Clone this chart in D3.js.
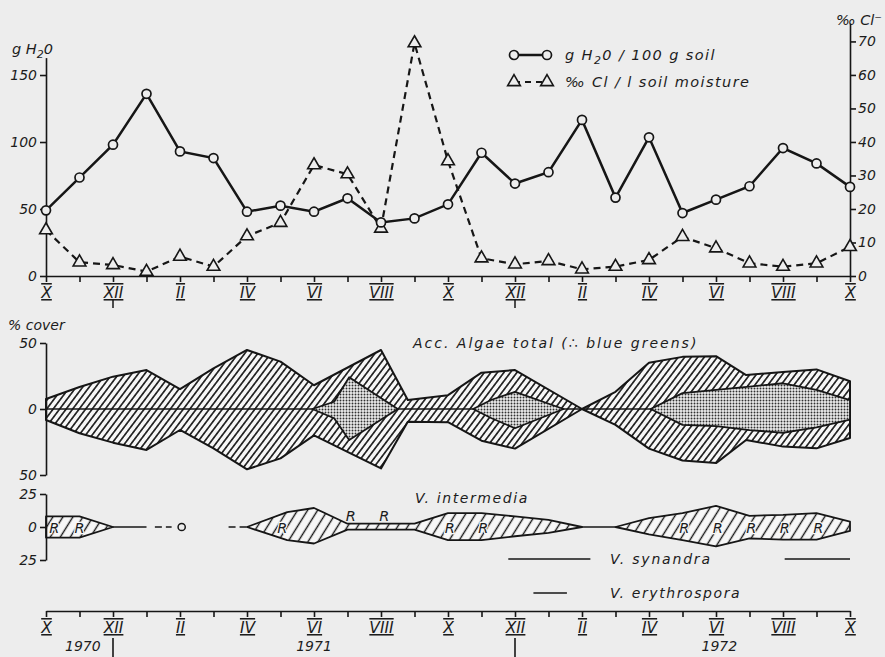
<!DOCTYPE html>
<html>
<head>
<meta charset="utf-8">
<script src="https://cdn.jsdelivr.net/npm/d3@7"></script>
<style>
  body { margin: 0; background: #ededed; }
  svg text { font-family: "DejaVu Sans", sans-serif; font-style: italic; fill: #1c1c1c; }
</style>
</head>
<body>
<svg id="chart"></svg>
<script>
// month index 0 = October 1970 ... 24 = October 1972
let monthIdx = [0,1,2,3,4,5,6,7,8,9,10,11,12,13,14,15,16,17,18,19,20,21,22,23,24]
let romanLabels = ["X","XII","II","IV","VI","VIII","X","XII","II","IV","VI","VIII","X"]

// top panel
let water = [49, 73.5, 98, 136, 93, 88, 48, 52.5, 48, 58, 40, 43, 53.5, 92, 69, 77.5, 116.5, 58.5, 103.5, 47, 57, 67, 95.5, 84, 66.5]
let chloride = [13.7, 4.1, 3.3, 1.3, 5.8, 2.8, 11.9, 15.9, 33.1, 30.4, 14.2, 69.5, 34.3, 5.3, 3.5, 4.5, 2.0, 2.8, 4.8, 11.7, 8.3, 3.8, 2.8, 3.8, 8.7]
let waterTicks = [0, 50, 100, 150]
let clTicks = [0, 10, 20, 30, 40, 50, 60, 70]

// algae total (% cover, up and down from zero)
let algaeMonths = [0,1,2,3,4,5,6,7,8,10,10.8,12,13,14,16,17,18,19,20,20.9,22,23,24]
let algaeUp = [7.6,16.7,24.5,29.5,15,30.8,44.7,35.9,18,44.7,6.8,10.5,27.5,29.5,0,13,35,39.5,40,25.7,28,30,21]
let algaeLow = [-8.3,-18.4,-25.5,-31,-15.9,-29.8,-45.7,-37.4,-20,-45,-9.6,-10,-24,-30,0,-12,-30,-39,-41,-23.5,-28.5,-29.8,-22]

// blue greens
let bgMonths = [[7.95, 8.6, 9.05, 10.5], [12.75, 13.3, 14, 15.45], [18.05, 19, 20, 21, 22, 23, 24]]
let bgUp = [[0, 5.5, 24, 0], [0, 7, 13, 0], [0, 12, 14.5, 17, 19.5, 14.5, 6.8]]
let bgLow = [[0, -7, -23.5, 0], [0, -7, -14.6, 0], [0, -12, -13, -16, -18, -14, -8]]
let coverTicks = [-50, 0, 50]

// V. intermedia
let intMonths = [[0, 1, 2], [6, 7.2, 8, 9, 11, 12, 13, 14, 15, 16], [17, 18, 19, 20, 21, 22, 23, 24]]
let intUp = [[8, 8, 0], [0, 11.3, 14.4, 2.5, 2.5, 10.5, 10.5, 8, 5.4, 0], [0, 6.7, 10.5, 16, 8.5, 9.2, 10.5, 4]]
let intLow = [[-8, -8, 0], [0, -10, -12.5, -2, -2, -10, -10, -7, -4.4, 0], [0, -5.6, -10, -14.6, -8.7, -9.5, -9.5, -3]]
let intSolid = [[2, 3], [16, 17]]
let intDashed = [[3.25, 3.75], [5.45, 6]]
let intCircle = [4.05]
let rMonths = [0.25, 1.0, 7.05, 9.1, 10.1, 12.05, 13.05, 19.05, 20.05, 21.05, 22.05, 23.05]
let rAbove = [0, 0, 0, 1, 1, 0, 0, 0, 0, 0, 0, 0]
let intTicks = [-25, 0, 25]

let synandra = [[13.8, 16.25], [22.05, 24]]
let erythrospora = [[14.55, 15.55]]

let yearBreaks = [2, 14]
let yearLabels = ["1970", "1971", "1972"]
let yearMonths = [1.1, 8, 20.1]

let w = 885
let h = 657
let bg = "#ededed"
let ink = "#161616"

let svg = d3.select("#chart").attr("width", w).attr("height", h)

let x = d3.scaleLinear().domain([0, 24]).range([46, 850])
let yWater = d3.scaleLinear().domain([0, 163]).range([276, 57.6])
let yCl = d3.scaleLinear().domain([0, 75.5]).range([276, 23])
let yAlg = d3.scaleLinear().domain([-50, 50]).range([475, 343])
let yInt = d3.scaleLinear().domain([-25, 25]).range([560, 494])

let defs = svg.append("defs")

let makeHatch = (id, gap, angle, sw) => {
  let p = defs.append("pattern")
      .attr("id", id)
      .attr("patternUnits", "userSpaceOnUse")
      .attr("width", gap)
      .attr("height", 10)
      .attr("patternTransform", "rotate(" + angle + ")")
  p.append("rect").attr("width", gap).attr("height", 10).attr("fill", "#f7f7f7")
  p.append("line")
      .attr("x1", gap / 2).attr("y1", -1)
      .attr("x2", gap / 2).attr("y2", 11)
      .attr("stroke", ink)
      .attr("stroke-width", sw)
}
makeHatch("hatchA", 5.2, 37, 1.6)
makeHatch("hatchI", 8.5, 32, 1.4)

let dots = defs.append("pattern")
               .attr("id", "dots")
               .attr("patternUnits", "userSpaceOnUse")
               .attr("width", 3).attr("height", 3)
dots.append("rect").attr("width", 3).attr("height", 3).attr("fill", "#ececec")
dots.append("circle").attr("cx", 1.5).attr("cy", 1.5).attr("r", 0.95).attr("fill", "#303030")

let styleAxis = (g, fs) => {
  g.selectAll("path, line").attr("stroke", ink).attr("stroke-width", 1.6)
  g.selectAll("text").attr("font-size", fs).attr("fill", ink)
   .attr("font-family", "DejaVu Sans").attr("font-style", "italic")
}

let monthAxis = (yPos) => {
  let ax = d3.axisBottom(x)
             .tickValues(monthIdx)
             .tickSize(6)
             .tickSizeOuter(0)
             .tickPadding(5)
             .tickFormat((d) => d % 2 === 0 ? romanLabels[d / 2] : "")
  let g = svg.append("g")
             .attr("transform", "translate(0," + yPos + ")")
             .call(ax)
  styleAxis(g, 15.5)
  g.selectAll("text").style("text-decoration", "underline overline")
}

// ---------- top panel ----------
monthAxis(276)

let gl = svg.append("g").attr("transform", "translate(46,0)")
            .call(d3.axisLeft(yWater).tickValues(waterTicks).tickSize(6).tickSizeOuter(0).tickPadding(3))
styleAxis(gl, 14)

let gr = svg.append("g").attr("transform", "translate(850,0)")
            .call(d3.axisRight(yCl).tickValues(clTicks).tickSize(6).tickSizeOuter(0).tickPadding(2))
styleAxis(gr, 14)

let clLine = d3.line().x((d, i) => x(monthIdx[i])).y((d) => yCl(d))
svg.append("path")
   .datum(chloride)
   .attr("d", clLine)
   .attr("fill", "none")
   .attr("stroke", ink)
   .attr("stroke-width", 2.2)
   .attr("stroke-dasharray", "7,5")

let waterLine = d3.line().x((d, i) => x(monthIdx[i])).y((d) => yWater(d))
svg.append("path")
   .datum(water)
   .attr("d", waterLine)
   .attr("fill", "none")
   .attr("stroke", ink)
   .attr("stroke-width", 2.5)

let tri = d3.symbol().type(d3.symbolTriangle).size(70)
svg.selectAll(".tri")
   .data(chloride)
   .enter()
   .append("path")
   .attr("class", "tri")
   .attr("d", tri)
   .attr("transform", (d, i) => "translate(" + x(monthIdx[i]) + "," + yCl(d) + ")")
   .attr("fill", bg)
   .attr("stroke", ink)
   .attr("stroke-width", 1.6)

svg.selectAll(".dot")
   .data(water)
   .enter()
   .append("circle")
   .attr("class", "dot")
   .attr("cx", (d, i) => x(monthIdx[i]))
   .attr("cy", (d) => yWater(d))
   .attr("r", 4.5)
   .attr("fill", bg)
   .attr("stroke", ink)
   .attr("stroke-width", 1.7)

// axis titles
let t1 = svg.append("text").attr("x", 12).attr("y", 54).attr("font-size", 14.5)
t1.append("tspan").text("g H")
t1.append("tspan").text("2").attr("dy", 4).attr("font-size", 11)
t1.append("tspan").text("0").attr("dy", -4)

svg.append("text").attr("x", 836).attr("y", 25).attr("font-size", 14.5).text("‰ Cl⁻")

// legend
let lg = svg.append("g").attr("transform", "translate(514,0)")
lg.append("line").attr("x1", 0).attr("x2", 33).attr("y1", 55).attr("y2", 55)
  .attr("stroke", ink).attr("stroke-width", 2.5)
lg.selectAll(".lc").data([0, 33]).enter().append("circle")
  .attr("cx", (d) => d).attr("cy", 55).attr("r", 4.5)
  .attr("fill", bg).attr("stroke", ink).attr("stroke-width", 1.7)
lg.append("line").attr("x1", 0).attr("x2", 33).attr("y1", 82).attr("y2", 82)
  .attr("stroke", ink).attr("stroke-width", 2.2).attr("stroke-dasharray", "6,5")
lg.selectAll(".lt").data([0, 33]).enter().append("path")
  .attr("d", tri).attr("transform", (d) => "translate(" + d + ",82)")
  .attr("fill", bg).attr("stroke", ink).attr("stroke-width", 1.6)

let l1 = lg.append("text").attr("x", 51).attr("y", 60).attr("font-size", 14.5).attr("letter-spacing", 1.4)
l1.append("tspan").text("g H")
l1.append("tspan").text("2").attr("dy", 4).attr("font-size", 11)
l1.append("tspan").text("0 / 100 g soil").attr("dy", -4)
lg.append("text").attr("x", 51).attr("y", 87).attr("font-size", 14.5).attr("letter-spacing", 1.4)
  .text("‰ Cl / l  soil  moisture")

// year marks under the top axis
svg.selectAll(".ym")
   .data(yearBreaks)
   .enter()
   .append("line")
   .attr("x1", (d) => x(d)).attr("x2", (d) => x(d))
   .attr("y1", 300).attr("y2", 308)
   .attr("stroke", ink).attr("stroke-width", 1.5)

// ---------- algae panel ----------
let algaeRows = algaeMonths.map((m, i) => ({ m: m, up: algaeUp[i], lo: algaeLow[i] }))
let areaAlg = d3.area().x((d) => x(d.m)).y0((d) => yAlg(d.lo)).y1((d) => yAlg(d.up))

svg.append("path")
   .datum(algaeRows)
   .attr("d", areaAlg)
   .attr("fill", "url(#hatchA)")
   .attr("stroke", ink)
   .attr("stroke-width", 2)
   .attr("stroke-linejoin", "round")

svg.append("line")
   .attr("x1", x(0)).attr("x2", x(24))
   .attr("y1", yAlg(0)).attr("y2", yAlg(0))
   .attr("stroke", ink).attr("stroke-width", 1.5)

bgMonths.forEach((ms, k) => {
  let rows = ms.map((m, i) => ({ m: m, up: bgUp[k][i], lo: bgLow[k][i] }))
  svg.append("path")
     .datum(rows)
     .attr("d", areaAlg)
     .attr("fill", "url(#dots)")
     .attr("stroke", ink)
     .attr("stroke-width", 1.8)
     .attr("stroke-linejoin", "round")
})

let ga = svg.append("g").attr("transform", "translate(46,0)")
            .call(d3.axisLeft(yAlg).tickValues(coverTicks).tickSize(6).tickSizeOuter(0).tickPadding(3)
                    .tickFormat((d) => Math.abs(d)))
styleAxis(ga, 14)

svg.append("text").attr("x", 8).attr("y", 330).attr("font-size", 14).text("% cover")
svg.append("text").attr("x", 413).attr("y", 348).attr("font-size", 14).attr("letter-spacing", 2)
   .text("Acc. Algae total (∴ blue greens)")

// ---------- V. intermedia panel ----------
let areaInt = d3.area().x((d) => x(d.m)).y0((d) => yInt(d.lo)).y1((d) => yInt(d.up))
intMonths.forEach((ms, k) => {
  let rows = ms.map((m, i) => ({ m: m, up: intUp[k][i], lo: intLow[k][i] }))
  svg.append("path")
     .datum(rows)
     .attr("d", areaInt)
     .attr("fill", "url(#hatchI)")
     .attr("stroke", ink)
     .attr("stroke-width", 1.8)
     .attr("stroke-linejoin", "round")
})

svg.selectAll(".isol")
   .data(intSolid)
   .enter()
   .append("line")
   .attr("x1", (d) => x(d[0])).attr("x2", (d) => x(d[1]))
   .attr("y1", yInt(0)).attr("y2", yInt(0))
   .attr("stroke", ink).attr("stroke-width", 1.7)

svg.selectAll(".idash")
   .data(intDashed)
   .enter()
   .append("line")
   .attr("x1", (d) => x(d[0])).attr("x2", (d) => x(d[1]))
   .attr("y1", yInt(0)).attr("y2", yInt(0))
   .attr("stroke", ink).attr("stroke-width", 1.7)
   .attr("stroke-dasharray", "7,4")

svg.selectAll(".icirc")
   .data(intCircle)
   .enter()
   .append("circle")
   .attr("cx", (d) => x(d)).attr("cy", yInt(0)).attr("r", 3.6)
   .attr("fill", bg).attr("stroke", ink).attr("stroke-width", 1.5)

svg.selectAll(".rlab")
   .data(rMonths)
   .enter()
   .append("text")
   .attr("class", "rlab")
   .attr("x", (d) => x(d))
   .attr("y", (d, i) => rAbove[i] ? yInt(0) - 6 : yInt(0) + 5.5)
   .attr("text-anchor", "middle")
   .attr("font-size", 14.5)
   .attr("paint-order", "stroke")
   .attr("stroke", (d, i) => rAbove[i] ? "none" : "#f7f7f7")
   .attr("stroke-width", 2.5)
   .text("R")

let gi = svg.append("g").attr("transform", "translate(46,0)")
            .call(d3.axisLeft(yInt).tickValues(intTicks).tickSize(6).tickSizeOuter(0).tickPadding(3)
                    .tickFormat((d) => Math.abs(d)))
styleAxis(gi, 14)

svg.append("text").attr("x", 415).attr("y", 503).attr("font-size", 14).attr("letter-spacing", 1.6)
   .text("V. intermedia")

svg.selectAll(".syn")
   .data(synandra)
   .enter()
   .append("line")
   .attr("x1", (d) => x(d[0])).attr("x2", (d) => x(d[1]))
   .attr("y1", 559).attr("y2", 559)
   .attr("stroke", ink).attr("stroke-width", 1.6)
svg.append("text").attr("x", 610).attr("y", 564).attr("font-size", 14).attr("letter-spacing", 1.8)
   .text("V. synandra")

svg.selectAll(".ery")
   .data(erythrospora)
   .enter()
   .append("line")
   .attr("x1", (d) => x(d[0])).attr("x2", (d) => x(d[1]))
   .attr("y1", 593).attr("y2", 593)
   .attr("stroke", ink).attr("stroke-width", 1.6)
svg.append("text").attr("x", 610).attr("y", 598).attr("font-size", 14).attr("letter-spacing", 1.6)
   .text("V. erythrospora")

// ---------- bottom time axis ----------
monthAxis(611)

svg.selectAll(".yb")
   .data(yearBreaks)
   .enter()
   .append("line")
   .attr("x1", (d) => x(d)).attr("x2", (d) => x(d))
   .attr("y1", 638).attr("y2", 657)
   .attr("stroke", ink).attr("stroke-width", 1.6)

svg.selectAll(".yl")
   .data(yearLabels)
   .enter()
   .append("text")
   .attr("x", (d, i) => x(yearMonths[i]))
   .attr("y", 651)
   .attr("text-anchor", "middle")
   .attr("font-size", 14)
   .text((d) => d)
</script>
</body>
</html>
